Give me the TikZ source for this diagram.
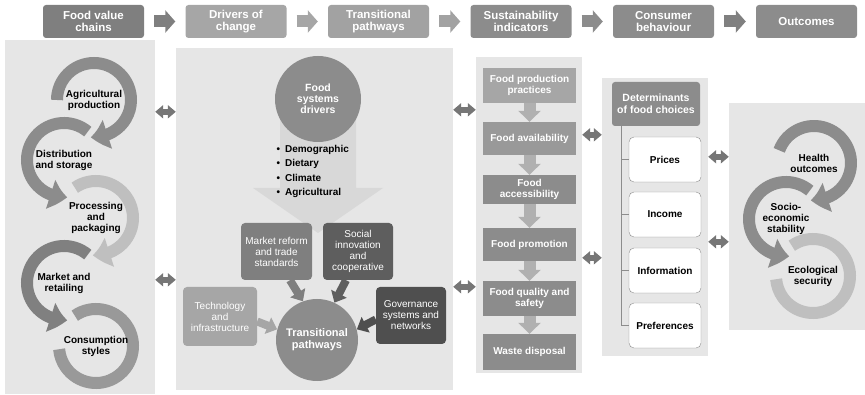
\documentclass[tikz,border=0pt]{standalone}
\usepackage{fontspec}
\setmainfont{Liberation Sans}
\usetikzlibrary{shapes,arrows.meta,positioning,bending}
\pgfdeclarelayer{background}
\pgfdeclarelayer{foreground}
\pgfsetlayers{background,main,foreground}
\definecolor{panelgray}{HTML}{E6E6E6}
\definecolor{hdrA}{HTML}{7F7F7F}
\definecolor{hdrB}{HTML}{A6A6A6}
\definecolor{hdrC}{HTML}{A2A2A2}
\definecolor{hdrD}{HTML}{8C8C8C}
\definecolor{dblgray}{HTML}{767676}
\definecolor{cycA}{HTML}{8C8C8C}
\definecolor{cycB}{HTML}{999999}
\definecolor{cycC}{HTML}{808080}
\definecolor{cycL}{HTML}{BFBFBF}
\definecolor{biggray}{HTML}{D8D8D8}
\definecolor{mrkgray}{HTML}{7F7F7F}
\definecolor{socgray}{HTML}{5E5E5E}
\definecolor{techgray}{HTML}{A6A6A6}
\definecolor{govgray}{HTML}{4F4F4F}
\definecolor{susarrowgray}{HTML}{B0B0B0}
\tikzstyle{header}=[rectangle, rounded corners=3pt, align=center, text=white, font=\fontsize{11.5}{12.5}\selectfont\bfseries, minimum width=101pt, minimum height=33pt]
\tikzstyle{hdrarrow}=[line width=12pt, -{Triangle[width=22pt,length=10pt]}, shorten <=10pt, shorten >=10pt]
\tikzstyle{panel}=[rectangle, fill=panelgray, inner sep=0pt]
\tikzstyle{dblarrow}=[line width=6pt, draw=dblgray, {Triangle[width=13pt,length=8pt]}-{Triangle[width=13pt,length=8pt]}]
\tikzstyle{cyctext}=[align=center, font=\fontsize{10}{11}\selectfont\bfseries]
\tikzstyle{cyc}=[line width=12pt]
\tikzstyle{cycend}=[-{Triangle[width=29pt,length=17pt,bend]}]
\tikzstyle{drvcircle}=[circle, fill=hdrD, text=white, align=center, font=\fontsize{10.5}{11.2}\selectfont\bfseries, minimum size=86pt]
\tikzstyle{pathbox}=[rectangle, rounded corners=4pt, text=white, align=center, font=\fontsize{10}{11}\selectfont, minimum width=71pt, minimum height=57pt, inner sep=1pt]
\tikzstyle{blkarrow}=[line width=8pt, -{Triangle[width=17pt,length=10pt]}]
\tikzstyle{susbox}=[rectangle, fill=hdrD, text=white, align=center, font=\fontsize{10}{11}\selectfont\bfseries, minimum width=93pt, inner sep=2pt]
\tikzstyle{susarrow}=[line width=12pt, draw=susarrowgray, -{Triangle[width=22pt,length=11pt]}]
\tikzstyle{detbox}=[rectangle, rounded corners=3pt, fill=hdrD, text=white, align=center, font=\fontsize{10.5}{12}\selectfont\bfseries, minimum width=88pt, minimum height=44pt]
\tikzstyle{choicebox}=[rectangle, rounded corners=5pt, draw=hdrD, fill=white, font=\fontsize{10}{11}\selectfont\bfseries, minimum width=72pt, minimum height=45pt]
\tikzstyle{treeline}=[draw=hdrD, line width=0.8pt]

\begin{document}
\begin{tikzpicture}[x=1pt,y=1pt]
\useasboundingbox (0,0) rectangle (865,-395);

% panels
\node[panel, minimum width=150, minimum height=354] (pvc) at (80,-217) {};
\node[panel, minimum width=277, minimum height=342] (pdrv) at (314.5,-219) {};
\node[panel, minimum width=106, minimum height=316] (psus) at (529,-215) {};
\node[panel, minimum width=106, minimum height=278] (pcons) at (655,-217) {};
\node[panel, minimum width=136, minimum height=227] (pout) at (797,-216.5) {};

% headers
\node[header, fill=hdrA] (hvc) at (93.5,-21.5) {Food value\\chains};
\node[header, fill=hdrB] (hdrv) at (236,-21.5) {Drivers of\\change};
\node[header, fill=hdrC] (hpath) at (378.5,-21.5) {Transitional\\pathways};
\node[header, fill=hdrD] (hsus) at (521,-21.5) {Sustainability\\indicators};
\node[header, fill=hdrD] (hcons) at (663.5,-21.5) {Consumer\\behaviour};
\node[header, fill=hdrD] (hout) at (806.5,-21.5) {Outcomes};

\draw[hdrarrow, draw=hdrA] (hvc) -- (hdrv);
\draw[hdrarrow, draw=hdrB] (hdrv) -- (hpath);
\draw[hdrarrow, draw=hdrC] (hpath) -- (hsus);
\draw[hdrarrow, draw=hdrD] (hsus) -- (hcons);
\draw[hdrarrow, draw=cycC] (hcons) -- (hout);

% food value chains
\begin{pgfonlayer}{foreground}
\node[cyctext] (agri) at (94,-100) {Agricultural\\production};
\node[cyctext] (dist) at (64,-160) {Distribution\\and storage};
\node[cyctext] (proc) at (96,-218) {Processing\\and\\packaging};
\node[cyctext] (mkt) at (64,-283) {Market and\\retailing};
\node[cyctext] (cons) at (96,-346) {Consumption\\styles};
\end{pgfonlayer}

\draw[cyc, draw=cycB] ([shift={(125:37)}]cons.center) arc[start angle=125, end angle=-175, radius=37];
\draw[cyc, cycend, draw=cycC] ([shift={(50:37)}]mkt.center) arc[start angle=50, end angle=275, radius=37];
\draw[cyc, cycend, draw=cycL] ([shift={(125:37)}]proc.center) arc[start angle=125, end angle=-95, radius=37];
\draw[cyc, cycend, draw=cycA] ([shift={(50:37)}]dist.center) arc[start angle=50, end angle=275, radius=37];
\draw[cyc, cycend, draw=cycA] ([shift={(180:37)}]agri.center) arc[start angle=180, end angle=-95, radius=37];

% drivers of change
\fill[biggray] (280,-99) -- (280,-188) -- (253,-188) -- (318,-233) -- (383,-188) -- (356,-188) -- (356,-99) -- cycle;
\node[drvcircle] (fsd) at (318,-99) {Food\\systems\\drivers};
\node[anchor=west, align=left, font=\fontsize{10}{14.4}\selectfont\bfseries] (bul) at (273,-171.5)
  {\textbullet\hspace{5pt}Demographic\\\textbullet\hspace{5pt}Dietary\\\textbullet\hspace{5pt}Climate\\\textbullet\hspace{5pt}Agricultural};
\node[pathbox, fill=mrkgray] (mrk) at (276.5,-251.5) {Market reform\\and trade\\standards};
\node[pathbox, fill=socgray, minimum width=70] (soc) at (358,-251.5) {Social\\innovation\\and\\cooperative};
\node[pathbox, fill=techgray, minimum width=74, minimum height=59] (tech) at (220,-316.5) {Technology\\and\\infrastructure};
\node[pathbox, fill=govgray, minimum width=70] (gov) at (411,-315.5) {Governance\\systems and\\networks};
\node[drvcircle, minimum size=82pt, font=\fontsize{11}{12}\selectfont\bfseries] (tp) at (317,-340) {Transitional\\pathways};

\draw[blkarrow, draw=mrkgray] ([xshift=13.5]mrk.south) -- (tp.110);
\draw[blkarrow, draw=socgray] ([xshift=-12]soc.south) -- (tp.65);
\draw[blkarrow, draw=techgray] ([yshift=-5]tech.east) -- (tp.165);
\draw[blkarrow, draw=govgray] ([yshift=-4]gov.west) -- (tp.15);

% sustainability indicators
\node[susbox, fill=hdrB, minimum height=35] (prac) at (529.5,-85.5) {Food production\\practices};
\node[susbox, fill=cycB, minimum height=33] (avail) at (529.5,-138.5) {Food availability};
\node[susbox, minimum height=29] (acc) at (529.5,-189.5) {Food\\accessibility};
\node[susbox, minimum height=33] (promo) at (529.5,-244.5) {Food promotion};
\node[susbox, minimum height=35] (qual) at (529.5,-298.5) {Food quality and\\safety};
\node[susbox, minimum height=36] (waste) at (529.5,-352) {Waste disposal};

\draw[susarrow] (prac.south) -- (avail.north);
\draw[susarrow] (avail.south) -- (acc.north);
\draw[susarrow] (acc.south) -- (promo.north);
\draw[susarrow] (promo.south) -- (qual.north);
\draw[susarrow] (qual.south) -- (waste.north);

% consumer behaviour
\node[detbox] (det) at (656,-104) {Determinants\\of food choices};
\node[choicebox] (prices) at (665,-159.5) {Prices};
\node[choicebox] (income) at (665,-214.5) {Income};
\node[choicebox] (info) at (665,-270.5) {Information};
\node[choicebox] (pref) at (665,-325.5) {Preferences};

\draw[treeline] ([xshift=-35]det.south) |- (prices.west);
\draw[treeline] ([xshift=-35]det.south) |- (income.west);
\draw[treeline] ([xshift=-35]det.south) |- (info.west);
\draw[treeline] ([xshift=-35]det.south) |- (pref.west);

% outcomes
\begin{pgfonlayer}{foreground}
\node[cyctext] (hlth) at (814,-163) {Health\\outcomes};
\node[cyctext] (socio) at (786,-219) {Socio-\\economic\\stability};
\node[cyctext] (eco) at (813,-276) {Ecological\\security};
\end{pgfonlayer}

\draw[cyc, draw=cycL] ([shift={(125:37)}]eco.center) arc[start angle=125, end angle=-175, radius=37];
\draw[cyc, cycend, draw=cycA] ([shift={(50:37)}]socio.center) arc[start angle=50, end angle=275, radius=37];
\draw[cyc, cycend, draw=cycA] ([shift={(160:37)}]hlth.center) arc[start angle=160, end angle=-95, radius=37];

% links between panels
\draw[dblarrow] ([yshift=-72]pvc.north east) -- ([yshift=-64]pdrv.north west);
\draw[dblarrow] ([yshift=-240]pvc.north east) -- ([yshift=-232]pdrv.north west);
\draw[dblarrow] ([yshift=-62]pdrv.north east) -- ([yshift=-53]psus.north west);
\draw[dblarrow] ([yshift=-239]pdrv.north east) -- ([yshift=-230]psus.north west);
\draw[dblarrow] ([yshift=-78]psus.north east) -- ([yshift=-57]pcons.north west);
\draw[dblarrow] ([yshift=-201]psus.north east) -- ([yshift=-180]pcons.north west);
\draw[dblarrow] ([yshift=-79]pcons.north east) -- ([yshift=-54]pout.north west);
\draw[dblarrow] ([yshift=-164]pcons.north east) -- ([yshift=-139]pout.north west);

\end{tikzpicture}
\end{document}
